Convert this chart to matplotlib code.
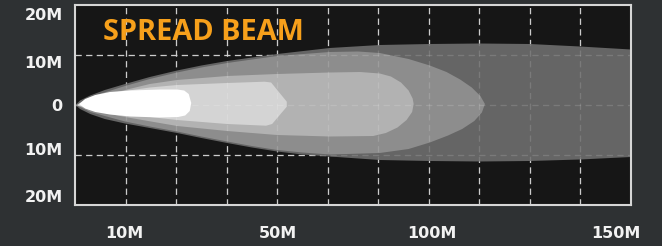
import matplotlib
matplotlib.use("Agg")
import matplotlib.pyplot as plt
from matplotlib.patches import Polygon
import numpy as np

# ---- data (x in grid units 0..11, y in metres) ----
x_tick_pos = [0.98, 4.02, 7.07, 10.70]
x_tick_labels = ["10M", "50M", "100M", "150M"]
y_tick_pos = [18.3, 8.5, 0.0, -8.8, -18.3]
y_tick_labels = ["20M", "10M", "0", "10M", "20M"]
grid_x = [1, 2, 3, 4, 5, 6, 7, 8, 9, 10]
grid_y = [-10, 0, 10]
title = "SPREAD BEAM"

# beam zones: (x, y) outline points, outermost first
zone_outer = [(0.02, 0.1), (0.10, 0.9), (0.30, 1.9), (0.59, 3.0), (0.99, 4.2), (1.48, 5.6),
              (2.02, 6.9), (2.5, 7.9), (3.01, 8.8), (4.0, 10.2), (5.04, 11.4), (6.03, 12.0),
              (7.02, 12.2), (8.01, 12.3), (9.0, 12.2), (9.99, 11.7), (11.0, 11.1),
              (11.0, -10.4), (9.99, -10.9), (9.0, -11.2), (8.01, -11.3), (7.02, -11.2),
              (6.03, -11.0), (5.04, -10.3), (4.5, -9.9), (4.0, -9.3), (3.5, -8.5), (3.01, -7.6),
              (2.5, -6.6), (2.02, -5.6), (1.48, -4.6), (0.99, -3.7), (0.59, -2.8), (0.30, -1.8),
              (0.10, -0.8), (0.02, -0.1)]
zone_mid = [(0.04, 0.1), (0.30, 1.6), (0.99, 3.8), (1.48, 5.2), (2.02, 6.5), (2.5, 7.5),
            (3.01, 8.4), (4.0, 9.8), (5.04, 10.6), (5.6, 10.7), (6.03, 10.4), (6.6, 9.2),
            (7.02, 7.9), (7.35, 6.6), (7.62, 5.1), (7.85, 3.5), (8.02, 1.8), (8.11, 0.2),
            (8.05, -1.5), (7.90, -3.2), (7.66, -4.8), (7.38, -6.1), (7.02, -7.5), (6.6, -8.8),
            (6.03, -9.6), (5.04, -9.9), (4.5, -9.5), (4.0, -9.0), (3.5, -8.2), (3.01, -7.3),
            (2.5, -6.3), (2.02, -5.3), (1.48, -4.3), (0.99, -3.3), (0.30, -1.4), (0.04, -0.1)]
zone_inner = [(0.05, 0.1), (0.30, 1.2), (0.99, 3.0), (1.48, 4.2), (2.02, 5.0), (3.01, 5.8),
              (4.0, 6.2), (5.04, 6.5), (5.64, 6.6), (6.03, 6.3), (6.25, 5.7), (6.45, 4.5),
              (6.60, 2.9), (6.68, 1.3), (6.70, 0.2), (6.67, -1.4), (6.56, -3.0), (6.38, -4.5),
              (6.15, -5.6), (5.9, -6.2), (5.04, -6.3), (4.0, -6.0), (3.01, -5.2), (2.02, -4.2),
              (0.99, -2.4), (0.30, -1.0), (0.05, -0.1)]
zone_near = [(0.06, 0.1), (0.30, 1.0), (0.99, 2.8), (1.48, 3.5), (2.02, 4.0), (3.01, 4.4),
             (3.75, 4.66), (3.88, 4.5), (4.19, 0.66), (4.19, -0.34), (3.90, -3.8), (3.78, -4.14),
             (3.01, -3.8), (2.02, -3.0), (1.48, -2.4), (0.99, -1.6), (0.30, -0.6), (0.06, -0.1)]
zone_hot = [(0.08, 0.2), (0.20, 1.2), (0.40, 2.0), (0.69, 2.6), (1.09, 2.9), (1.68, 3.1),
            (2.02, 3.1), (2.16, 2.9), (2.25, 2.2), (2.30, 0.4), (2.27, -1.2), (2.18, -2.1),
            (2.04, -2.4), (1.68, -2.5), (1.09, -2.3), (0.69, -1.9), (0.40, -1.4), (0.20, -0.7)]
zone_colors = ["#656565", "#8d8d8d", "#b2b2b2", "#d4d4d4", "#ffffff"]

# ---- figure ----
fig = plt.figure(figsize=(6.62, 2.46), dpi=100, facecolor="#2e3133")
ax = fig.add_axes([75 / 662, 1 - 205 / 246, 556 / 662, 200 / 246])
ax.set_facecolor("#161616")
ax.set_xlim(0, 11)
ax.set_ylim(-20, 20)

dash = (0, (5, 3.5))
for gx in grid_x:
    ax.axvline(gx, color="#c4c4c4", lw=0.9, ls=dash, zorder=1)
    ax.axvline(gx, color="white", lw=0.9, ls=dash, alpha=0.14, zorder=7)
for gy in grid_y:
    ax.axhline(gy, color="#c4c4c4", lw=0.9, ls=dash, zorder=1)
    ax.axhline(gy, color="white", lw=0.9, ls=dash, alpha=0.14, zorder=7)

for i, (zone, col) in enumerate(zip([zone_outer, zone_mid, zone_inner, zone_near, zone_hot], zone_colors)):
    ax.add_patch(Polygon(np.array(zone), closed=True, facecolor=col, edgecolor="none",
                         joinstyle="round", zorder=2 + i))

ax.text(0.55, 13.0, title, fontsize=20.8, fontweight="bold", family=["Open Sans", "DejaVu Sans"],
        color="#f7a01b", va="baseline", ha="left", zorder=8)

ax.set_xticks(x_tick_pos)
ax.set_xticklabels(x_tick_labels)
ax.set_yticks(y_tick_pos)
ax.set_yticklabels(y_tick_labels)
ax.tick_params(length=0, colors="#f2f2f2", labelsize=11.5)
ax.tick_params(axis="x", pad=15)
ax.tick_params(axis="y", pad=9)
for lab in ax.get_xticklabels() + ax.get_yticklabels():
    lab.set_fontweight("bold")
    lab.set_family("DejaVu Sans")

for s in ax.spines.values():
    s.set_color("#d6d6d6")
    s.set_linewidth(1.5)
    s.set_zorder(9)

fig.savefig("out.png", dpi=100, facecolor=fig.get_facecolor())
